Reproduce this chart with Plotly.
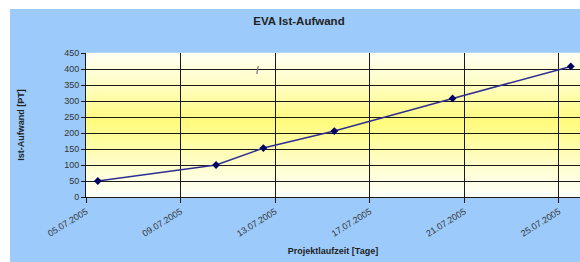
import plotly.graph_objects as go

dates = ["2005-07-05", "2005-07-10", "2005-07-12", "2005-07-15", "2005-07-20", "2005-07-25"]
effort = [50, 100, 153, 206, 308, 408]
title_text = "EVA Ist-Aufwand"
x_title = "Projektlaufzeit [Tage]"
y_title = "Ist-Aufwand [PT]"

FONT = "Liberation Sans, Arial, sans-serif"

fig = go.Figure()
fig.add_trace(go.Scatter(
    x=dates, y=effort, mode="lines+markers",
    xperiod=86400000, xperiodalignment="middle",
    line=dict(color="#2E2E90", width=1.5),
    marker=dict(symbol="diamond", size=6, color="#000060"),
    showlegend=False, cliponaxis=False,
))

shapes = []
# blue chart area background
shapes.append(dict(type="rect", xref="paper", yref="paper", x0=-0.1538, x1=1.2, y0=-1.0, y1=1.3056,
                   fillcolor="#9CCBFB", line=dict(width=0), layer="below"))
# vertical gradient in plot area: white -> yellow -> white
n = 48
center = 0.52
for i in range(n):
    t0 = i / n
    t1 = (i + 1) / n
    tm = (t0 + t1) / 2
    k = max(0.0, 1 - abs(tm - center) / 0.52)
    k = k ** 1.2
    r = 255
    g = round(255 - 4 * k)
    b = round(248 - 125 * k)
    shapes.append(dict(type="rect", xref="paper", yref="paper", x0=0, x1=1, y0=t0, y1=t1 + 0.002,
                       fillcolor=f"rgb({r},{g},{b})", line=dict(width=0), layer="below"))

fig.update_layout(
    width=580, height=262,
    margin=dict(l=86, r=0, t=53, b=65, autoexpand=False),
    paper_bgcolor="white",
    plot_bgcolor="rgba(0,0,0,0)",
    shapes=shapes,
    font=dict(family=FONT, color="#222222", size=8),
    title=dict(text=f"<b>{title_text}</b>", x=299 / 580, xanchor="center",
               y=1 - 21 / 262, yanchor="middle",
               font=dict(family=FONT, size=11.5, color="#222222")),
    annotations=[dict(text="<b>/</b>", x=0.348, y=0.93, xref="paper", yref="paper",
                      showarrow=False, font=dict(family=FONT, size=10, color="#7a7a7a"))],
)

fig.update_xaxes(
    type="date", automargin=False,
    range=["2005-07-05 00:00", "2005-07-25 21:20"],
    tick0="2005-07-05", dtick=4 * 86400000,
    tickformat="%d.%m.%Y", tickangle=-32,
    showgrid=True, gridcolor="#1a1a1a", gridwidth=1,
    showline=True, linecolor="#1a1a1a", linewidth=1,
    ticks="outside", ticklen=5, tickcolor="#1a1a1a",
    tickfont=dict(size=9, color="#333333"),
    title=dict(text=f"<b>{x_title}</b>", font=dict(size=9, color="#222222"), standoff=10),
    zeroline=False,
)
fig.update_yaxes(
    automargin=False,
    range=[0, 450], dtick=50,
    showgrid=True, gridcolor="#1a1a1a", gridwidth=1,
    showline=True, linecolor="#1a1a1a", linewidth=1,
    ticks="outside", ticklen=4, tickcolor="#1a1a1a",
    tickfont=dict(size=9, color="#333333"),
    title=dict(text=f"<b>{y_title}</b>", font=dict(size=9, color="#222222"), standoff=38),
    zeroline=False,
)

fig.write_html("out.html", config={"displayModeBar": False},
               post_script="document.body.style.margin='0px';")
